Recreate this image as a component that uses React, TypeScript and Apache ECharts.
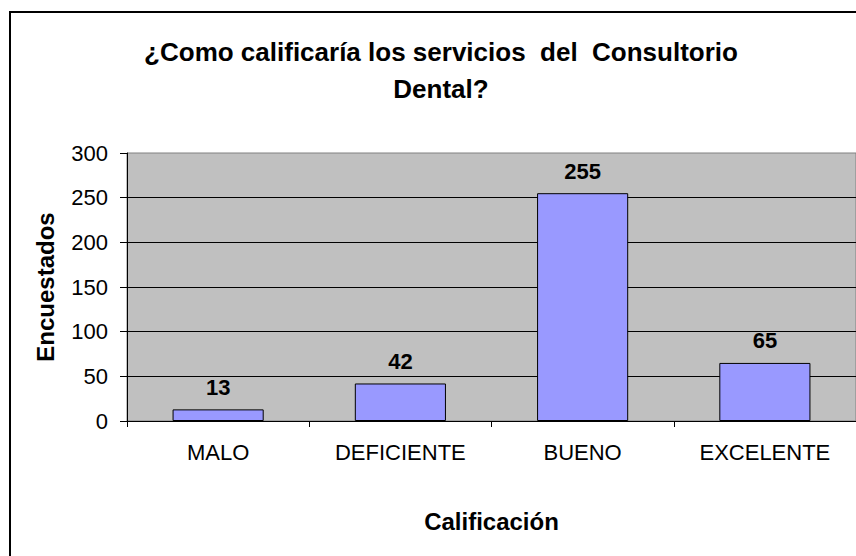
import React, { useEffect, useRef } from "react";
import * as echarts from "echarts";

const categories = ["MALO", "DEFICIENTE", "BUENO", "EXCELENTE"];
const values = [13, 42, 255, 65];
const yTicks = { min: 0, max: 300, interval: 50 };
const titleText = "¿Como calificaría los servicios  del  Consultorio\nDental?";
const xName = "Calificación";
const yName = "Encuestados";

const FONT = '"Liberation Sans", Arial, sans-serif';

export default function App() {
  const ref = useRef<HTMLDivElement>(null);
  useEffect(() => {
    if (!ref.current) return;
    const chart = echarts.init(ref.current, undefined, { renderer: "svg" });
    chart.setOption({
      animation: false,
      backgroundColor: "#ffffff",
      textStyle: { fontFamily: FONT },
      title: {
        text: titleText,
        left: 436,
        top: 28,
        textAlign: "center",
        textStyle: {
          fontFamily: FONT,
          fontSize: 26,
          fontWeight: "bold",
          color: "#000",
          lineHeight: 37,
        },
      },
      graphic: [
        {
          type: "rect",
          shape: { x: 10, y: 12, width: 900, height: 600 },
          style: { fill: "none", stroke: "#000", lineWidth: 2 },
          z: 100,
        },
      ],
      grid: {
        left: 127,
        top: 153,
        width: 730,
        height: 268,
        show: true,
        backgroundColor: "#C0C0C0",
        borderColor: "#808080",
        borderWidth: 1,
      },
      xAxis: {
        type: "category",
        data: categories,
        name: xName,
        nameLocation: "middle",
        nameGap: 88,
        nameTextStyle: { fontFamily: FONT, fontSize: 24, fontWeight: "bold", color: "#000" },
        axisLine: { lineStyle: { color: "#000", width: 1 } },
        axisTick: { show: true, length: 6, lineStyle: { color: "#000" } },
        axisLabel: { fontFamily: FONT, fontSize: 22, color: "#000", margin: 20 },
        splitLine: { show: false },
      },
      yAxis: {
        type: "value",
        min: yTicks.min,
        max: yTicks.max,
        interval: yTicks.interval,
        name: yName,
        nameLocation: "middle",
        nameGap: 70,
        nameRotate: 90,
        nameTextStyle: { fontFamily: FONT, fontSize: 24, fontWeight: "bold", color: "#000" },
        axisLine: { show: true, lineStyle: { color: "#000", width: 1 } },
        axisTick: { show: true, length: 7, lineStyle: { color: "#000" } },
        axisLabel: { fontFamily: FONT, fontSize: 22, color: "#000", margin: 19 },
        splitLine: { show: true, showMaxLine: false, lineStyle: { color: "#000", width: 1 } },
      },
      series: [
        {
          type: "bar",
          data: values,
          barWidth: "50%",
          itemStyle: { color: "#9999FF", borderColor: "#000", borderWidth: 1 },
          label: {
            show: true,
            position: "top",
            distance: 11,
            fontFamily: FONT,
            fontSize: 22,
            fontWeight: "bold",
            color: "#000",
          },
        },
      ],
    });
    return () => chart.dispose();
  }, []);
  return (
    <div
      ref={ref}
      style={{ position: "fixed", left: 0, top: 0, width: 856, height: 556 }}
    />
  );
}
